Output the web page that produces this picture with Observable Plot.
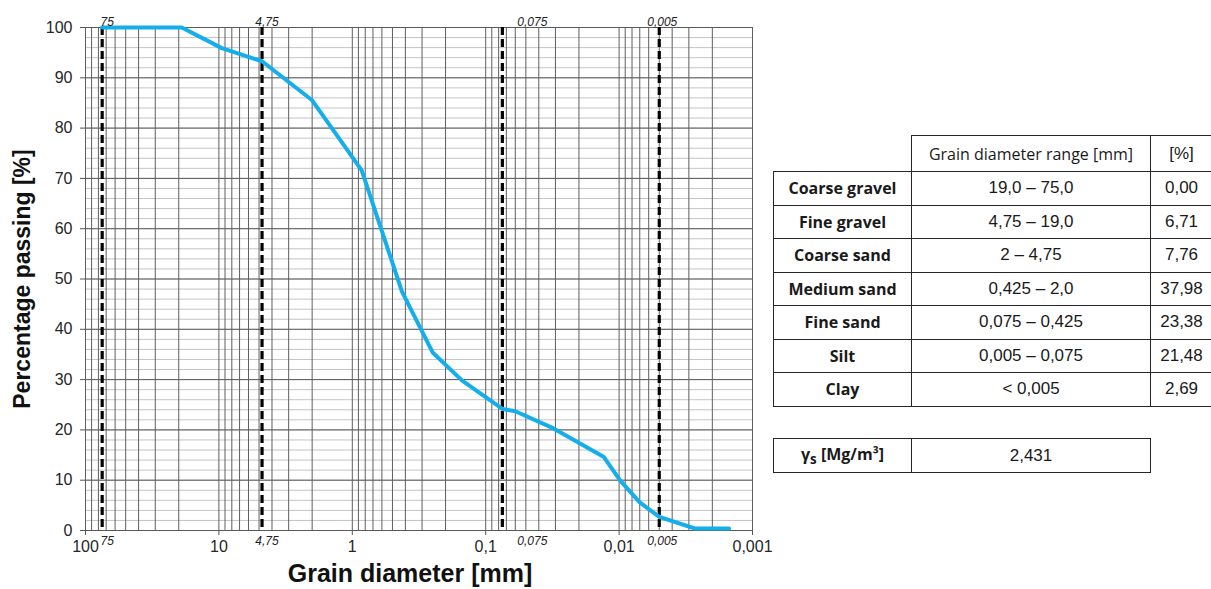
<!DOCTYPE html>
<html><head><meta charset="utf-8">
<script src="https://cdn.jsdelivr.net/npm/d3@7"></script>
<script src="https://cdn.jsdelivr.net/npm/@observablehq/plot@0.6"></script>
<style>
body{margin:0;background:#fff;width:1211px;height:589px;overflow:hidden;position:relative;font-family:"Liberation Sans",Arial,sans-serif;color:#1a1a1a}
#chart{position:absolute;left:0;top:0}
table{border-collapse:collapse;position:absolute;table-layout:fixed;background:#fff}
td{border:1px solid #262626;text-align:center;padding:0;font-size:17px;overflow:hidden;white-space:nowrap}
td.lab{font-family:"Open Sans",Lato,sans-serif;font-weight:bold;font-size:16px}
td.hd{font-family:"Open Sans",Lato,sans-serif;font-size:16px}
td.blank{border-top:none;border-left:none}
</style></head><body>
<div id="chart"></div>
<table id="t1"></table>
<table id="t2"></table>
<script>
// ---- data ----
const diameter = [75, 19, 9.5, 4.75, 2, 0.85, 0.425, 0.25, 0.15, 0.075, 0.06, 0.031, 0.013, 0.0098, 0.007, 0.005, 0.0027, 0.0015];
const passing  = [100, 100, 95.9, 93.29, 85.53, 71.6, 47.55, 35.4, 29.8, 24.17, 23.7, 20.3, 14.6, 9.9, 5.6, 2.69, 0.4, 0.4];
const boundaries = [75, 4.75, 0.075, 0.005];
const boundaryLabels = ["75", "4,75", "0,075", "0,005"];
const xTicks = [100, 10, 1, 0.1, 0.01, 0.001];
const xTickLabels = ["100", "10", "1", "0,1", "0,01", "0,001"];
const yTicks = [0, 10, 20, 30, 40, 50, 60, 70, 80, 90, 100];
const fractions = ["Coarse gravel", "Fine gravel", "Coarse sand", "Medium sand", "Fine sand", "Silt", "Clay"];
const ranges = ["19,0 – 75,0", "4,75 – 19,0", "2 – 4,75", "0,425 – 2,0", "0,075 – 0,425", "0,005 – 0,075", "< 0,005"];
const percents = ["0,00", "6,71", "7,76", "37,98", "23,38", "21,48", "2,69"];
const gammaLabel = "γ<sub>s</sub> [Mg/m³]";
const gammaValue = "2,431";

// ---- style constants ----
const labelDx = [5, 5, 30, 3];

const data = diameter.map((d, i) => ({d, p: passing[i]}));
const minorX = [];
for (let e = -3; e < 2; e++) for (let m = 1; m <= 9; m++) minorX.push(+(m * 10 ** e).toPrecision(3));
minorX.push(100);
const minorY = d3.range(0, 101, 2);

const labelMarks = [];
boundaries.forEach((b, i) => {
  labelMarks.push(Plot.text([b], {x: d => d, frameAnchor: "top", dy: -10, dx: labelDx[i], text: () => boundaryLabels[i], fontStyle: "italic", fontSize: 12, fill: "#222"}));
  labelMarks.push(Plot.text([b], {x: d => d, frameAnchor: "bottom", dy: 14, dx: labelDx[i], text: () => boundaryLabels[i], fontStyle: "italic", fontSize: 12, fill: "#222"}));
});

const plot = Plot.plot({
  width: 775, height: 589,
  marginLeft: 85, marginRight: 23, marginTop: 27, marginBottom: 59,
  style: {fontFamily: "Liberation Sans, Arial, sans-serif", fontSize: "16px", color: "#262626", background: "transparent"},
  x: {type: "log", domain: [0.001, 100], reverse: true},
  y: {domain: [0, 100]},
  marks: [
    Plot.ruleY(minorY, {stroke: "#c4c4c4", strokeWidth: 1}),
    Plot.ruleY(yTicks, {stroke: "#5a5a5a", strokeWidth: 1}),
    Plot.ruleX(minorX, {stroke: "#5e5e5e", strokeWidth: 1}),
    Plot.ruleX(boundaries, {stroke: "#000", strokeWidth: 3.2, strokeDasharray: "8,4"}),
    Plot.line(data, {x: "d", y: "p", stroke: "#14aeea", strokeWidth: 4, strokeLinejoin: "round"}),
    Plot.axisY({ticks: yTicks, tickSize: 5, tickPadding: 8, label: null, stroke: "#555", fontSize: 16}),
    Plot.axisX({ticks: xTicks, tickFormat: d => xTickLabels[xTicks.indexOf(d)], tickSize: 5, tickPadding: 5, label: null, stroke: "#555", fontSize: 16}),
    ...labelMarks,
    Plot.text(["Percentage passing [%]"], {frameAnchor: "left", textAnchor: "middle", dx: -63, rotate: -90, text: d => d, fontSize: 23, fontWeight: "bold", fill: "#111"}),
    Plot.text(["Grain diameter [mm]"], {frameAnchor: "bottom", textAnchor: "middle", dy: 51, dx: -9, text: d => d, fontSize: 25, fontWeight: "bold", fill: "#111"})
  ]
});
document.getElementById("chart").appendChild(plot);

// ---- tables ----
const t1 = document.getElementById("t1");
t1.style.left = "773px"; t1.style.top = "135px";
t1.innerHTML = `<colgroup><col style="width:138px"><col style="width:239px"><col style="width:62px"></colgroup>`
  + `<tr style="height:36px"><td class="blank"></td><td class="hd">Grain diameter range [mm]</td><td>[%]</td></tr>`
  + fractions.map((f, i) => `<tr style="height:33.5px"><td class="lab">${f}</td><td>${ranges[i]}</td><td>${percents[i]}</td></tr>`).join("");
t1.style.width = "439px";
const t2 = document.getElementById("t2");
t2.style.left = "773px"; t2.style.top = "438px";
t2.innerHTML = `<colgroup><col style="width:138px"><col style="width:239px"></colgroup>`
  + `<tr style="height:34px"><td class="lab">${gammaLabel}</td><td>${gammaValue}</td></tr>`;
t2.style.width = "377px";
</script>
</body></html>
